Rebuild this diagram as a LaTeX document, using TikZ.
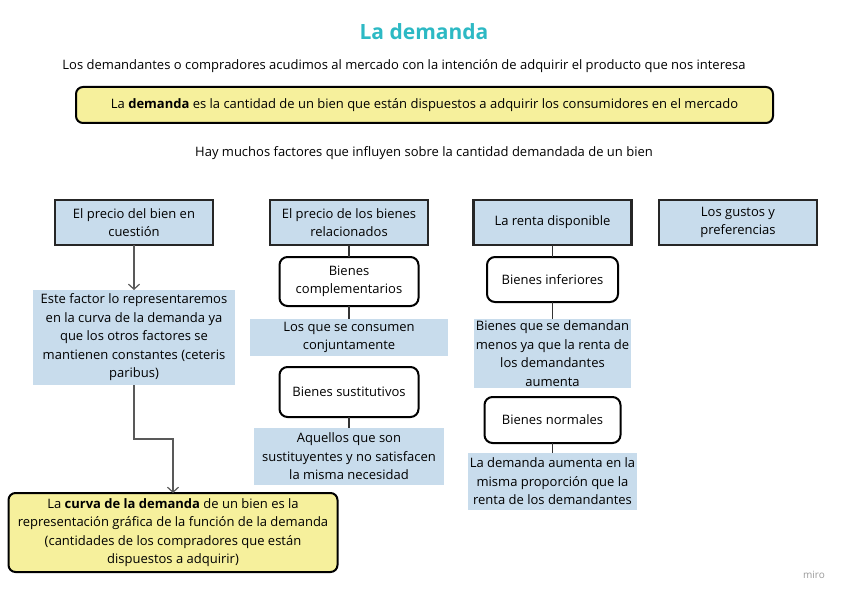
\documentclass[tikz,border=0pt]{standalone}
\usepackage{fontspec}
\setmainfont{Open Sans}
\usetikzlibrary{arrows.meta}

\definecolor{titleteal}{HTML}{2DB9C4}
\definecolor{factorblue}{HTML}{C8DCEC}
\definecolor{defyellow}{HTML}{F6F09C}

\begin{document}
\begin{tikzpicture}[x=1pt, y=-1pt, outer sep=0pt, font=\fontsize{13}{18.5}\selectfont]

\tikzstyle{factor}=[draw=black!85, line width=2.6pt, fill=factorblue, anchor=north, align=center, inner sep=0pt, minimum width=158pt, minimum height=45pt]
\tikzstyle{goods}=[draw=black, line width=2pt, rounded corners=8pt, fill=white, anchor=north, align=center, inner sep=0pt]
\tikzstyle{note}=[fill=factorblue, anchor=north, align=center, inner sep=0pt]
\tikzstyle{defin}=[draw=black, line width=2pt, rounded corners=7pt, fill=defyellow, align=center, inner sep=0pt]
\tikzstyle{link}=[draw=black!80, line width=1.6pt]
\tikzstyle{arrow}=[draw=black!65, line width=1.2pt, -{Straight Barb[length=5pt, width=11pt]}]

\useasboundingbox (0,0) rectangle (848,599);

\node[font=\fontsize{21}{25}\selectfont\bfseries, text=titleteal] (title) at (424,32) {La demanda};
\node (intro) at (404,66) {Los demandantes o compradores acudimos al mercado con la intención de adquirir el producto que nos interesa};
\node[defin, minimum width=697pt, minimum height=36pt] (defn) at (424.5,105) {La \textbf{demanda} es la cantidad de un bien que están dispuestos a adquirir los consumidores en el mercado};
\node (factors) at (424,153) {Hay muchos factores que influyen sobre la cantidad demandada de un bien};

\node[factor] (precio) at (134,200) {El precio del bien en\\cuestión};
\node[factor] (relac) at (349,200) {El precio de los bienes\\relacionados};
\node[factor] (renta) at (552.5,200) {La renta disponible};
\node[factor] (gustos) at (738,200) {Los gustos y\\preferencias};

\node[note, minimum width=202pt, minimum height=95pt] (ceteris) at (134,290) {Este factor lo representaremos\\en la curva de la demanda ya\\que los otros factores se\\mantienen constantes (ceteris\\paribus)};
\node[defin, anchor=north, minimum width=329pt, minimum height=79pt] (curva) at (173,493) {La \textbf{curva de la demanda} de un bien es la\\representación gráfica de la función de la demanda\\(cantidades de los compradores que están\\dispuestos a adquirir)};
\coordinate (bend) at (173,439);

\node[goods, minimum width=139pt, minimum height=49pt] (compl) at (349,257) {Bienes\\complementarios};
\node[note, minimum width=198pt, minimum height=37pt] (conj) at (349,319) {Los que se consumen\\conjuntamente};
\node[goods, minimum width=139pt, minimum height=50pt] (sustit) at (349,367) {Bienes sustitutivos};
\node[note, minimum width=190pt, minimum height=57pt] (aquel) at (349,428) {Aquellos que son\\sustituyentes y no satisfacen\\la misma necesidad};

\node[goods, minimum width=131pt, minimum height=45pt] (infer) at (552.5,257) {Bienes inferiores};
\node[note, minimum width=157pt, minimum height=69pt] (menos) at (552.5,319) {Bienes que se demandan\\menos ya que la renta de\\los demandantes\\aumenta};
\node[goods, minimum width=136pt, minimum height=46pt] (normal) at (552.5,397) {Bienes normales};
\node[note, minimum width=169pt, minimum height=57pt] (aumenta) at (552.5,453) {La demanda aumenta en la\\misma proporción que la\\renta de los demandantes};

\node[text=black!40, font=\fontsize{10}{12}\selectfont] (miro) at (814,575) {miro};

\draw[arrow] (precio.south) -- (ceteris.north);
\draw[arrow] (ceteris.south) |- (bend) -- (curva.north);
\draw[link] (relac.south) -- (compl.north);
\draw[link] (compl.south) -- (conj.north);
\draw[link] (sustit.south) -- (aquel.north);
\draw[link] (renta.south) -- (infer.north);
\draw[link] (infer.south) -- (menos.north);
\draw[link] (normal.south) -- (aumenta.north);

\end{tikzpicture}
\end{document}
